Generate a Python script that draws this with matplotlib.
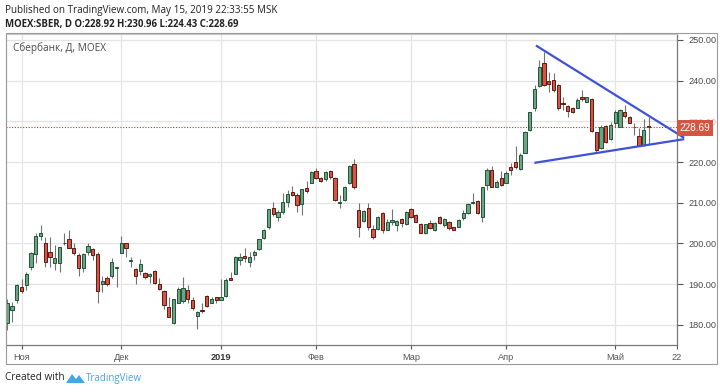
import matplotlib
matplotlib.use("Agg")
from matplotlib import pyplot as plt
from matplotlib.patches import Rectangle, Polygon

# daily candles MOEX:SBER, 29 Oct 2018 .. 15 May 2019
opens = [180.4, 183.7, 186.0, 189.2, 189.9, 194.3, 197.3, 201.8, 200.0, 197.8, 195.3, 195.1,
         200.0, 201.0, 198.8, 197.2, 193.9, 198.0, 198.6, 197.4, 190.0, 191.4, 191.9, 194.0,
         197.7, 200.0, 195.8, 193.7, 193.3, 192.7, 192.0, 193.2, 190.0, 188.3, 184.3, 180.4,
         185.3, 185.9, 188.6, 186.1, 182.2, 183.7, 187.1, 185.5, 186.8, 186.1, 187.0, 191.6,
         192.5, 196.0, 196.9, 195.5, 197.2, 198.6, 201.3, 204.1, 208.6, 206.4, 207.7, 210.3,
         212.6, 211.9, 209.6, 213.6, 214.9, 217.8, 216.0, 215.8, 217.8, 216.0, 209.9, 210.7,
         214.8, 219.5, 208.2, 205.6, 208.6, 203.5, 203.5, 207.6, 203.3, 205.4, 204.5, 205.9,
         204.7, 208.4, 207.0, 204.8, 202.5, 205.1, 203.3, 206.4, 204.6, 205.4, 204.0, 204.1,
         206.2, 207.4, 209.9, 210.5, 206.4, 214.4, 218.1, 214.0, 216.0, 214.9, 218.9, 220.1,
         218.2, 222.3, 227.9, 233.2, 238.8, 244.3, 239.8, 240.2, 238.9, 234.6, 233.8, 233.2,
         233.4, 235.9, 234.8, 235.4, 227.3, 223.4, 228.9, 225.6, 229.5, 228.5, 232.4, 231.0,
         228.5, 226.4, 224.2, 228.92]
highs = [186.3, 185.7, 190.0, 191.2, 193.1, 198.0, 202.5, 204.5, 201.7, 201.7, 199.6, 199.2,
         202.5, 203.3, 200.0, 197.6, 197.6, 200.0, 198.8, 198.0, 191.9, 191.9, 196.4, 194.3,
         201.9, 200.0, 196.6, 193.9, 196.1, 193.1, 192.7, 193.5, 191.4, 188.6, 186.8, 186.4,
         189.4, 191.7, 189.8, 186.9, 183.5, 185.3, 187.3, 186.8, 186.8, 191.2, 191.5, 193.1,
         196.9, 197.6, 198.8, 198.0, 198.4, 201.0, 203.5, 208.4, 210.3, 208.2, 212.3, 213.1,
         214.2, 212.5, 213.3, 215.4, 217.9, 218.5, 216.4, 217.9, 218.1, 216.3, 211.9, 214.1,
         219.3, 220.7, 209.9, 208.2, 209.9, 204.5, 206.8, 207.7, 205.9, 208.4, 205.8, 206.2,
         208.0, 208.6, 207.2, 205.0, 204.8, 205.8, 205.3, 206.8, 206.2, 205.5, 204.1, 205.9,
         208.2, 209.9, 212.3, 210.7, 214.0, 218.5, 219.1, 215.5, 217.9, 217.7, 219.7, 224.0,
         222.2, 227.7, 232.4, 239.0, 245.1, 247.1, 242.2, 242.0, 239.1, 236.1, 234.0, 233.6,
         235.7, 237.6, 236.1, 235.7, 227.5, 229.0, 229.1, 229.9, 232.8, 233.0, 234.0, 231.3,
         229.5, 228.3, 230.5, 230.96]
lows = [178.7, 180.8, 185.5, 187.9, 188.6, 193.5, 195.1, 200.9, 194.3, 194.3, 193.5, 193.1,
        199.6, 199.0, 197.2, 191.9, 193.1, 197.2, 196.0, 185.5, 188.2, 189.6, 191.4, 189.4,
        197.6, 196.8, 194.3, 190.0, 192.3, 191.2, 190.2, 190.0, 188.6, 183.8, 182.0, 180.2,
        185.3, 185.3, 185.5, 183.7, 179.0, 182.8, 184.3, 185.3, 185.5, 186.1, 186.8, 191.0,
        192.5, 194.7, 195.5, 194.3, 196.0, 198.4, 201.0, 203.6, 206.8, 205.6, 207.2, 208.9,
        211.7, 207.8, 207.0, 212.5, 214.8, 215.8, 215.2, 215.4, 215.8, 210.5, 208.6, 210.5,
        214.6, 213.3, 201.7, 205.4, 203.3, 201.0, 203.3, 202.7, 203.2, 204.5, 203.1, 204.0,
        204.5, 206.2, 205.4, 202.5, 202.3, 203.5, 203.0, 204.8, 204.1, 203.3, 203.2, 204.1,
        205.8, 207.3, 209.7, 207.3, 205.4, 213.2, 213.8, 213.8, 214.1, 214.8, 216.8, 218.2,
        218.1, 222.2, 227.7, 232.6, 238.5, 238.8, 237.1, 237.3, 232.8, 232.8, 231.2, 232.1,
        233.2, 235.0, 234.7, 227.5, 222.3, 223.1, 224.8, 225.4, 228.5, 228.5, 230.8, 229.5,
        226.7, 224.0, 224.0, 224.43]
closes = [185.3, 184.6, 189.7, 188.4, 192.4, 197.7, 201.8, 202.7, 195.5, 196.8, 196.4, 199.1,
          200.1, 199.0, 197.7, 193.9, 197.4, 199.4, 197.2, 188.3, 190.9, 190.1, 195.5, 194.1,
          200.0, 198.8, 195.9, 192.0, 194.9, 191.7, 192.4, 190.2, 188.8, 184.9, 182.0, 186.4,
          188.7, 189.0, 186.4, 184.1, 183.1, 183.3, 184.7, 186.4, 186.1, 186.8, 191.0, 191.0,
          196.8, 196.6, 196.4, 196.6, 197.8, 201.0, 203.3, 208.4, 207.2, 207.7, 210.3, 212.2,
          211.9, 209.5, 213.3, 213.0, 217.6, 216.0, 215.4, 217.6, 216.4, 210.7, 210.2, 213.8,
          219.0, 213.8, 204.1, 208.0, 204.0, 201.7, 206.6, 203.3, 205.4, 205.8, 205.5, 205.1,
          207.8, 206.4, 205.4, 202.7, 204.8, 203.7, 205.1, 205.0, 205.9, 203.7, 203.3, 205.8,
          207.6, 209.7, 210.3, 207.4, 213.8, 218.1, 214.0, 215.0, 214.4, 217.4, 218.1, 218.7,
          221.7, 227.5, 232.2, 237.9, 243.4, 238.9, 239.2, 237.6, 233.2, 234.2, 232.6, 232.4,
          235.3, 235.4, 235.9, 227.7, 223.0, 228.7, 225.0, 229.1, 232.4, 232.8, 231.3, 229.7,
          228.6, 224.0, 227.9, 228.69]

month_labels = ["Ноя", "Дек", "2019", "Фев", "Мар", "Апр", "Май", "22"]
month_bars = [3, 24, 45, 65, 85, 105, 128, 141]
price_ticks = [180, 190, 200, 210, 220, 230, 240, 250]

# triangle drawn on the chart (bar index, price)
upper_x, upper_y = [111.5, 142.3], [248.5, 226.1]
lower_x, lower_y = [111.2, 142.3], [219.85, 225.6]

last_price = closes[-1]

W, H = 720, 392
fig = plt.figure(figsize=(W / 100, H / 100), dpi=100)

def fx(px):
    return px / W

def fy(py):
    return 1 - py / H

ax = fig.add_axes([fx(5.5), fy(345), fx(677) - fx(5.5), fy(34) - fy(345)])
ax.set_xlim(-0.38, 139.96)
ax.set_ylim(175.06, 251.47)

up_face, up_edge = "#6ba583", "#225437"
dn_face, dn_edge = "#d75442", "#5b1a13"
wick = "#737375"

xs = list(range(len(opens)))
for i in xs:
    o, h, l, c = opens[i], highs[i], lows[i], closes[i]
    up = c >= o
    ax.vlines(i, l, h, color=wick, lw=0.8, zorder=2)
    ax.bar(i, max(abs(c - o), 0.12), bottom=min(o, c), width=0.66,
           color=up_face if up else dn_face, edgecolor=up_edge if up else dn_edge,
           linewidth=0.7, zorder=3)

ax.plot(upper_x, upper_y, color="#3f51d8", lw=1.6, clip_on=False, zorder=5)
ax.plot(lower_x, lower_y, color="#3f51d8", lw=1.6, clip_on=False, zorder=5)

ax.axhline(last_price, color="#c0392b", lw=0.8, linestyle=(0, (1, 1.5)), zorder=4)

# grid
for p in price_ticks:
    ax.axhline(p, color="#e4e4e4", lw=0.9, zorder=0)
for b in month_bars[:-1]:
    ax.axvline(b, color="#e4e4e4", lw=0.9, zorder=0)

ax.yaxis.tick_right()
ax.set_yticks(price_ticks)
ax.set_yticklabels([f"{p:.2f}" for p in price_ticks])
ax.set_xticks(month_bars)
ax.set_xticklabels(month_labels)
ax.tick_params(axis="y", length=4, width=0.8, color="#555555", pad=4,
               labelsize=6.6, labelcolor="#4a4a4a")
ax.tick_params(axis="x", length=3, width=0.8, color="#555555", pad=3,
               labelsize=6.6, labelcolor="#555555")
for t in ax.get_yticklabels() + ax.get_xticklabels():
    t.set_family("Liberation Sans")
ax.get_xticklabels()[2].set_fontweight("bold")
ax.get_xticklabels()[2].set_color("#333333")
# the 230.00 label sits behind the last-price box, as in the snapshot
ax.get_yticklabels()[5].set_alpha(0.35)

for s in ["top", "left"]:
    ax.spines[s].set_color("#c8c8c8")
    ax.spines[s].set_linewidth(0.8)
for s in ["right", "bottom"]:
    ax.spines[s].set_color("#777777")
    ax.spines[s].set_linewidth(0.9)

# last price label on the price axis
ax.text(1.004, last_price - 0.4, f"{last_price:.2f}", transform=ax.get_yaxis_transform(),
        ha="left", va="center", fontsize=7.2, color="white", family="Liberation Sans",
        bbox=dict(boxstyle="square,pad=0.3", fc="#d75442", ec="none"), zorder=6,
        clip_on=False)

# outer frame around chart and axes
fig.patches.append(Rectangle((fx(5.5), fy(364)), fx(717) - fx(5.5), fy(33) - fy(364),
                             transform=fig.transFigure, fill=False, ec="#9a9a9a", lw=0.8))

ax.text(0.011, 0.955, "Сбербанк, Д, MOEX", transform=ax.transAxes, fontsize=7.2,
        color="#4a4a4a", family="Open Sans", va="center")

fig.text(fx(5), fy(10), "Published on TradingView.com, May 15, 2019 22:33:55 MSK",
         fontsize=7.1, family="Open Sans", color="#222222", va="center")
fig.text(fx(5), fy(24), "MOEX:SBER, D O:228.92 H:230.96 L:224.43 C:228.69",
         fontsize=6.9, family="Open Sans", fontweight="bold", color="#222222", va="center")

fig.text(fx(5), fy(378), "Created with", fontsize=7.2, family="Open Sans",
         color="#222222", va="center")
logo = [(66, 383), (72, 374), (76, 379), (79, 375), (85, 383)]
fig.patches.append(Polygon([(fx(a), fy(b)) for a, b in logo], closed=True,
                           transform=fig.transFigure, fc="#3fa9e8", ec="none"))
fig.text(fx(86), fy(378), "TradingView", fontsize=7.0, family="Open Sans",
         color="#3fa9e8", va="center")

fig.savefig("out.png", dpi=100)
